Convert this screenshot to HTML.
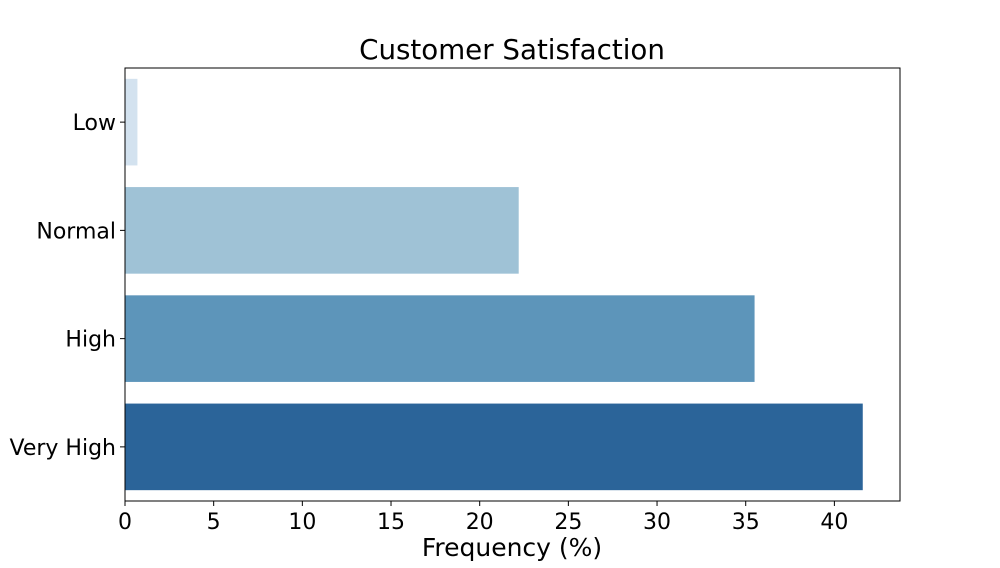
<!DOCTYPE html>
<html><head><meta charset="utf-8"><style>
body{margin:0;background:#fff;}
svg text{font-family:"DejaVu Sans","Liberation Sans",sans-serif;fill:#000;}
</style></head><body>
<svg id="chart" width="1000" height="563">
<text x="512" y="59" font-size="27.7" text-anchor="middle">Customer Satisfaction</text>
<g id="bars"></g>
<rect x="125" y="68" width="775" height="433" fill="none" stroke="#000" stroke-width="1"/>
<g id="xticks"></g><g id="yticks"></g>
<text x="512" y="556" font-size="25" text-anchor="middle">Frequency (%)</text>
</svg>
<script>
const categories=["Low","Normal","High","Very High"];
const values=[0.7,22.2,35.5,41.6];
const colors=["#d3e2ef","#9fc2d6","#5d95ba","#2b6499"];
const xTicks=[0,5,10,15,20,25,30,35,40];
const L=125,R=900,T=68,B=501,XMAX=43.7;
const NS="http://www.w3.org/2000/svg";
const x=v=>L+v/XMAX*(R-L);
const band=(B-T)/categories.length;
const y=i=>T+band*i;
const bars=document.getElementById('bars'),xt=document.getElementById('xticks'),yt=document.getElementById('yticks');
function mk(tag,attrs){const e=document.createElementNS(NS,tag);for(const k in attrs)e.setAttribute(k,attrs[k]);return e;}
categories.forEach((c,i)=>{
  const r=mk('rect',{x:L,y:y(i)+band*0.1,width:x(values[i])-L,height:band*0.8,fill:colors[i]});
  
  
  bars.appendChild(r);
  const cy=y(i)+band/2;
  const tk=mk('line',{x1:L-5,x2:L,y1:cy,y2:cy,stroke:'#000'});
  
  
  yt.appendChild(tk);
  const t=mk('text',{x:L-9,y:cy+8,'font-size':22,'text-anchor':'end'});
  t.textContent=c;
  
  
  yt.appendChild(t);
});
xTicks.forEach(v=>{
  const tk=mk('line',{x1:x(v),x2:x(v),y1:B,y2:B+5,stroke:'#000'});
  
  
  xt.appendChild(tk);
  const t=mk('text',{x:x(v),y:B+28,'font-size':22,'text-anchor':'middle'});
  t.textContent=v;
  
  
  xt.appendChild(t);
});
</script>
</body></html>
